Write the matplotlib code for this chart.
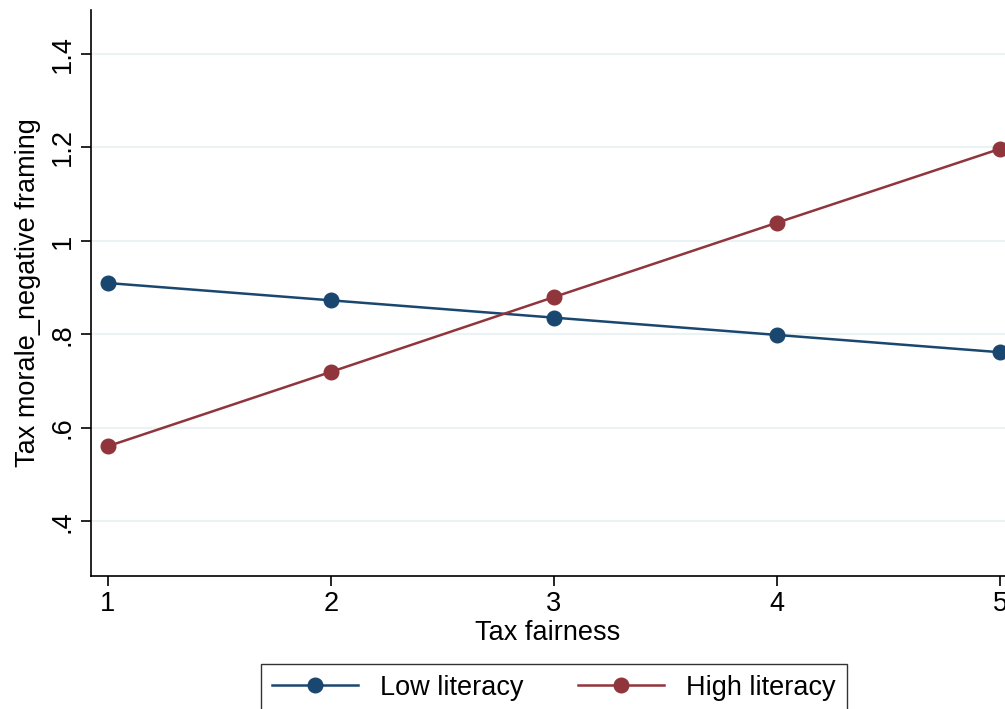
import numpy as np
import matplotlib
matplotlib.use('Agg')
import matplotlib.pyplot as plt

plt.rcParams['font.family'] = ['Liberation Sans', 'DejaVu Sans']

fairness = [1, 2, 3, 4, 5]
low_literacy = [0.910, 0.873, 0.836, 0.799, 0.762]
high_literacy = [0.561, 0.720, 0.880, 1.039, 1.197]
yticks = [0.4, 0.6, 0.8, 1.0, 1.2, 1.4]
ytick_labels = ['.4', '.6', '.8', '1', '1.2', '1.4']

navy = '#1a476f'
maroon = '#90353b'

fig = plt.figure(figsize=(10.05, 7.09), dpi=100)
ax = fig.add_axes([91/1005, (709-576)/709, (1005-91)/1005, (576-10)/709])

ax.plot(fairness, low_literacy, color=navy, lw=1.8, marker='o', ms=10.5,
        label='Low literacy', clip_on=False, zorder=3)
ax.plot(fairness, high_literacy, color=maroon, lw=1.8, marker='o', ms=10.5,
        label='High literacy', clip_on=False, zorder=3)

ax.set_xlim(0.924, 5.0224)
ax.set_ylim(0.2834, 1.494)
ax.set_xticks(fairness)
ax.set_yticks(yticks)
ax.set_yticklabels(ytick_labels, rotation=90, va='center')
ax.tick_params(direction='out', length=7, width=1.2, labelsize=19.5, pad=4)
ax.grid(axis='y', color='#eaf2f3', lw=1.5)
ax.set_axisbelow(True)
for s in ['top', 'right']:
    ax.spines[s].set_visible(False)
for s in ['left', 'bottom']:
    ax.spines[s].set_linewidth(1.2)

ax.set_xlabel('Tax fairness', fontsize=19.5, labelpad=2)
ax.set_ylabel('Tax morale_negative framing', fontsize=19.5, labelpad=6)

fig.legend(loc='upper center', bbox_to_anchor=(0.551, (709-664)/709), ncol=2,
           fontsize=19.5, frameon=True, fancybox=False, edgecolor='black',
           handlelength=3.2, columnspacing=2.0, borderpad=0.4, borderaxespad=0)

fig.savefig('out.png', dpi=100)
